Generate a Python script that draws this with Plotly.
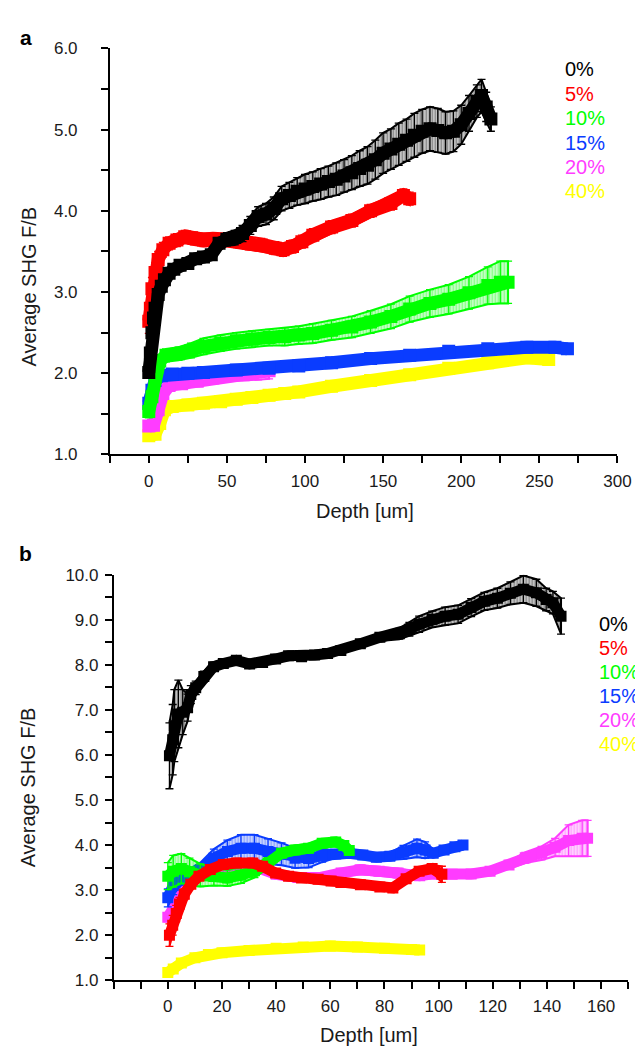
import plotly.graph_objects as go

W, H = 643, 1050

LABELS = ["0%", "5%", "10%", "15%", "20%", "40%"]
COLORS = ["#000000", "#ff0000", "#00ff00", "#0a3cff", "#ff3cff", "#ffff00"]

# ---------------- Panel a ----------------
a0_x = [0, 1, 2, 3, 4, 6, 8, 10, 13, 16, 20, 25, 30, 35, 40, 45, 50, 55, 60, 65, 70, 75, 80, 85, 90, 95,
        100, 105, 110, 115, 120, 125, 130, 135, 140, 145, 150, 155, 160, 165, 170, 175, 180, 185, 190,
        195, 200, 205, 210, 213, 216, 219]
a0_y = [2.01, 2.25, 2.5, 2.68, 2.8, 2.97, 3.07, 3.15, 3.23, 3.28, 3.33, 3.35, 3.41, 3.43, 3.46, 3.6, 3.65,
        3.67, 3.72, 3.82, 3.93, 3.96, 4.03, 4.15, 4.19, 4.24, 4.27, 4.3, 4.33, 4.36, 4.39, 4.43, 4.47, 4.52,
        4.56, 4.63, 4.71, 4.76, 4.82, 4.87, 4.93, 4.98, 5.01, 4.99, 4.96, 4.98, 5.06, 5.2, 5.35, 5.42, 5.28,
        5.13]
a0_e = [0.07, 0.07, 0.07, 0.07, 0.07, 0.07, 0.07, 0.06, 0.06, 0.06, 0.06, 0.06, 0.06, 0.06, 0.06, 0.07, 0.08,
        0.09, 0.1, 0.11, 0.12, 0.13, 0.14, 0.15, 0.16, 0.17, 0.18, 0.18, 0.19, 0.19, 0.2, 0.2, 0.21, 0.22,
        0.23, 0.24, 0.25, 0.25, 0.26, 0.26, 0.27, 0.27, 0.27, 0.27, 0.26, 0.25, 0.24, 0.22, 0.2, 0.2, 0.18,
        0.15]

a5_x = [0, 1, 2, 4, 6, 9, 13, 18, 23, 29, 35, 41, 50, 58, 64, 72, 81, 86, 92, 98, 105, 117, 130, 142, 155,
        163, 167]
a5_y = [2.64, 2.8, 3.04, 3.24, 3.4, 3.52, 3.6, 3.64, 3.68, 3.66, 3.64, 3.65, 3.64, 3.62, 3.6, 3.58, 3.54,
        3.52, 3.56, 3.62, 3.7, 3.8, 3.88, 4.0, 4.09, 4.19, 4.15]
a5_e = [0.15, 0.15, 0.14, 0.12, 0.1, 0.09, 0.08, 0.08, 0.08, 0.08, 0.08, 0.08, 0.08, 0.08, 0.08, 0.08, 0.08,
        0.08, 0.08, 0.08, 0.08, 0.08, 0.08, 0.08, 0.08, 0.08, 0.08]

a10_x = [0, 2, 4, 7, 11, 19, 27, 35, 46, 56, 66, 77, 87, 96, 105, 117, 130, 142, 155, 167, 180, 192, 205,
         217, 225, 230]
a10_y = [1.53, 1.71, 1.95, 2.15, 2.22, 2.24, 2.28, 2.33, 2.37, 2.4, 2.42, 2.44, 2.45, 2.47, 2.49, 2.53,
         2.57, 2.63, 2.7, 2.79, 2.86, 2.91, 2.99, 3.08, 3.12, 3.12]
a10_e = [0.08, 0.08, 0.08, 0.08, 0.08, 0.08, 0.09, 0.1, 0.1, 0.1, 0.1, 0.1, 0.11, 0.11, 0.12, 0.12, 0.13,
         0.14, 0.15, 0.16, 0.17, 0.18, 0.2, 0.23, 0.26, 0.26]

a15_x = [0, 2, 4, 8, 15, 25, 35, 56, 77, 96, 117, 142, 167, 192, 217, 242, 260, 268]
a15_y = [1.63, 1.79, 1.91, 1.97, 1.99, 2.0, 2.01, 2.04, 2.06, 2.09, 2.13, 2.18, 2.22, 2.27, 2.3, 2.32, 2.32,
         2.3]
a15_e = [0.1, 0.08, 0.05, 0.04, 0.03, 0.03, 0.03, 0.03, 0.03, 0.03, 0.03, 0.03, 0.03, 0.03, 0.03, 0.03,
         0.03, 0.03]

a20_x = [0, 3, 6, 9, 13, 21, 31, 41, 52, 62, 70, 77]
a20_y = [1.35, 1.36, 1.55, 1.75, 1.85, 1.87, 1.9, 1.94, 1.98, 2.0, 2.02, 2.03]
a20_e = [0.06, 0.06, 0.06, 0.06, 0.06, 0.06, 0.06, 0.07, 0.08, 0.09, 0.1, 0.1]

a40_x = [0, 4, 7, 10, 15, 25, 35, 46, 56, 66, 77, 87, 96, 117, 142, 167, 192, 217, 242, 256]
a40_y = [1.23, 1.25, 1.38, 1.55, 1.59, 1.61, 1.63, 1.65, 1.68, 1.7, 1.73, 1.75, 1.77, 1.84, 1.91, 1.98,
         2.06, 2.13, 2.19, 2.17]
a40_e = [0.04] * 20

# ---------------- Panel b ----------------
b0_x = [0.6, 1.8, 2.4, 3.9, 5.5, 7.3, 8.5, 10.3, 13.3, 16.9, 20.5, 25.3, 30.2, 35, 39.8, 44.6, 49.4, 54.2,
        59, 63.9, 71.1, 78.3, 85.5, 89.2, 92.8, 97.6, 102.4, 107.2, 112, 116.9, 121.7, 126.5, 131.3, 136.1,
        139.7, 142.2, 145.2]
b0_y = [5.98, 6.34, 6.65, 6.91, 6.95, 7.05, 7.34, 7.49, 7.74, 7.96, 8.03, 8.1, 8.02, 8.05, 8.13, 8.2, 8.18,
        8.22, 8.25, 8.32, 8.47, 8.61, 8.69, 8.79, 8.9, 9.01, 9.08, 9.12, 9.27, 9.41, 9.48, 9.59, 9.68, 9.6,
        9.45, 9.38, 9.08]
b0_e = [0.73, 0.78, 0.8, 0.75, 0.5, 0.3, 0.2, 0.15, 0.12, 0.1, 0.08, 0.06, 0.05, 0.05, 0.05, 0.05, 0.05,
        0.05, 0.05, 0.05, 0.06, 0.08, 0.12, 0.15, 0.18, 0.18, 0.2, 0.2, 0.2, 0.2, 0.22, 0.25, 0.3, 0.3,
        0.25, 0.25, 0.4]

b5_x = [0.6, 1.8, 3.1, 4.3, 6.1, 8.5, 11.5, 15.7, 20.5, 25.3, 31.4, 35, 39.8, 44.6, 49.4, 55.5, 60.3, 63.9,
        71.1, 78.3, 83.1, 88, 92.8, 97.6, 101.2]
b5_y = [2.0, 2.22, 2.48, 2.69, 2.91, 3.13, 3.31, 3.46, 3.57, 3.6, 3.6, 3.53, 3.38, 3.31, 3.27, 3.24, 3.2,
        3.17, 3.12, 3.07, 3.05, 3.25, 3.42, 3.48, 3.35]
b5_e = [0.25, 0.22, 0.18, 0.15, 0.12, 0.08, 0.05, 0.04, 0.04, 0.04, 0.04, 0.04, 0.04, 0.04, 0.04, 0.04,
        0.04, 0.04, 0.04, 0.04, 0.04, 0.05, 0.06, 0.08, 0.18]

b10_x = [0, 2, 5, 8, 12, 17, 22, 27, 32, 37, 42, 47, 52, 57, 62, 65, 67]
b10_y = [3.31, 3.42, 3.48, 3.41, 3.33, 3.3, 3.27, 3.33, 3.43, 3.6, 3.82, 3.89, 3.93, 4.04, 4.07, 3.99, 3.88]
b10_e = [0.3, 0.35, 0.33, 0.3, 0.25, 0.2, 0.18, 0.18, 0.15, 0.12, 0.1, 0.1, 0.1, 0.08, 0.08, 0.08, 0.08]

b15_x = [0, 2, 5, 8, 12, 17, 22, 27, 32, 37, 42, 47, 52, 57, 62, 67, 72, 77, 82, 87, 92, 95, 98, 102, 106,
         109]
b15_y = [2.83, 3.1, 3.26, 3.35, 3.46, 3.71, 3.86, 3.93, 3.93, 3.86, 3.8, 3.71, 3.7, 3.77, 3.8, 3.82, 3.78,
         3.73, 3.75, 3.84, 3.93, 3.89, 3.82, 3.89, 3.96, 4.0]
b15_e = [0.2, 0.2, 0.15, 0.12, 0.15, 0.2, 0.25, 0.3, 0.3, 0.28, 0.25, 0.22, 0.2, 0.15, 0.08, 0.06, 0.06,
         0.06, 0.08, 0.15, 0.2, 0.18, 0.08, 0.06, 0.06, 0.06]

b20_x = [0, 2, 5, 8, 12, 18, 25, 32, 40, 48, 56, 64, 71, 78, 85, 93, 98, 105, 112, 119, 126, 132, 138, 143,
         148, 153, 155]
b20_y = [2.4, 2.62, 2.88, 3.15, 3.4, 3.5, 3.55, 3.52, 3.35, 3.28, 3.28, 3.38, 3.45, 3.42, 3.38, 3.32, 3.36,
         3.35, 3.36, 3.42, 3.56, 3.72, 3.82, 3.95, 4.1, 4.15, 4.15]
b20_e = [0.1, 0.1, 0.1, 0.1, 0.12, 0.12, 0.1, 0.08, 0.06, 0.06, 0.06, 0.08, 0.1, 0.1, 0.1, 0.08, 0.06,
         0.05, 0.05, 0.06, 0.08, 0.12, 0.15, 0.2, 0.35, 0.4, 0.4]

b40_x = [0, 2, 5, 10, 15, 20, 30, 40, 50, 60, 70, 80, 90, 93]
b40_y = [1.17, 1.25, 1.38, 1.5, 1.57, 1.61, 1.66, 1.71, 1.74, 1.76, 1.74, 1.71, 1.68, 1.67]
b40_e = [0.02] * 14

panel_a = [(a0_x, a0_y, a0_e), (a5_x, a5_y, a5_e), (a10_x, a10_y, a10_e),
           (a15_x, a15_y, a15_e), (a20_x, a20_y, a20_e), (a40_x, a40_y, a40_e)]
panel_b = [(b0_x, b0_y, b0_e), (b5_x, b5_y, b5_e), (b10_x, b10_y, b10_e),
           (b15_x, b15_y, b15_e), (b20_x, b20_y, b20_e), (b40_x, b40_y, b40_e)]

FONT = "Liberation Sans, Arial, Helvetica, sans-serif"
fig = go.Figure()


def add_series(x, y, e, color, xa, ya, msize):
    up = [v + d for v, d in zip(y, e)]
    lo = [v - d for v, d in zip(y, e)]
    fig.add_trace(go.Scatter(
        x=list(x) + list(x)[::-1], y=up + lo[::-1], xaxis=xa, yaxis=ya,
        mode="lines", fill="toself", fillcolor="rgba(0,0,0,0)",
        fillpattern=dict(shape="|", fgcolor=color, size=3, solidity=0.65, fillmode="overlay"),
        line=dict(color=color, width=2), hoverinfo="skip", showlegend=False))
    fig.add_trace(go.Scatter(
        x=x, y=y, xaxis=xa, yaxis=ya, mode="lines+markers",
        line=dict(color=color, width=msize),
        marker=dict(symbol="square", size=msize, color=color),
        error_y=dict(type="data", array=e, color=color, thickness=1.3, width=4),
        showlegend=False))


# draw in reverse order so black is on top
for i in reversed(range(6)):
    x, y, e = panel_a[i]
    add_series(x, y, e, COLORS[i], "x", "y", 13)
for i in reversed(range(6)):
    x, y, e = panel_b[i]
    add_series(x, y, e, COLORS[i], "x2", "y2", 11)


def px_x(p):
    return p / W


def px_y(p):
    return 1 - p / H


axis_common = dict(showline=True, linecolor="black", linewidth=1.5, ticks="outside", ticklen=7,
                   tickwidth=1.5, tickcolor="black", showgrid=False, zeroline=False,
                   tickfont=dict(family=FONT, size=17, color="#1a1a1a"))

fig.update_layout(
    width=W, height=H, margin=dict(l=0, r=0, t=0, b=0),
    paper_bgcolor="white", plot_bgcolor="white", showlegend=False,
    xaxis=dict(domain=[px_x(104), px_x(623)], range=[-25, 300], anchor="y",
               tickmode="array", tickvals=[0, 50, 100, 150, 200, 250, 300],
               minor=dict(dtick=25, tick0=0, ticks="outside", ticklen=7, tickwidth=1.5, tickcolor="black"),
               ticklabelstandoff=3, **axis_common),
    yaxis=dict(domain=[px_y(445.5), px_y(32)], range=[1, 6], anchor="x", dtick=1, tickformat=".1f",
               minor=dict(dtick=0.5, tick0=0, ticks="outside", ticklen=7, tickwidth=1.5, tickcolor="black"),
               ticklabelstandoff=20, **axis_common),
    xaxis2=dict(domain=[px_x(108), px_x(634)], range=[-20, 170], anchor="y2",
                tickmode="array", tickvals=[0, 20, 40, 60, 80, 100, 120, 140, 160],
                minor=dict(dtick=10, tick0=0, ticks="outside", ticklen=7, tickwidth=1.5, tickcolor="black"),
                ticklabelstandoff=3, **axis_common),
    yaxis2=dict(domain=[px_y(981), px_y(568)], range=[1, 10], anchor="x2", dtick=1, tickformat=".1f",
                minor=dict(dtick=0.5, tick0=0, ticks="outside", ticklen=7, tickwidth=1.5, tickcolor="black"),
                ticklabelstandoff=3, **axis_common),
)

ann = []
# panel letters
ann.append(dict(text="<b>a</b>", x=px_x(18), y=px_y(21), xref="paper", yref="paper", showarrow=False,
                font=dict(family=FONT, size=21, color="black"), xanchor="center", yanchor="middle"))
ann.append(dict(text="<b>b</b>", x=px_x(18), y=px_y(546), xref="paper", yref="paper", showarrow=False,
                font=dict(family=FONT, size=21, color="black"), xanchor="center", yanchor="middle"))
# axis titles
for (cx, cy) in [(21, 275), (20, 785)]:
    ann.append(dict(text="Average SHG F/B", x=px_x(cx), y=px_y(cy), xref="paper", yref="paper",
                    showarrow=False, textangle=-90, font=dict(family=FONT, size=20, color="#1a1a1a"),
                    xanchor="center", yanchor="middle"))
for (cx, cy) in [(365, 503), (369, 1037)]:
    ann.append(dict(text="Depth [um]", x=px_x(cx), y=px_y(cy), xref="paper", yref="paper",
                    showarrow=False, font=dict(family=FONT, size=20, color="#1a1a1a"),
                    xanchor="center", yanchor="middle"))
# legend labels
for left, tops in [(567, [53, 78, 103, 128, 153, 177]), (602, [618, 642.5, 667, 691.5, 716, 740.5])]:
    for lab, col, cy in zip(LABELS, COLORS, tops):
        ann.append(dict(text=lab, x=px_x(left), y=px_y(cy), xref="paper", yref="paper", showarrow=False,
                        font=dict(family=FONT, size=20, color=col), xanchor="left", yanchor="middle"))
fig.update_layout(annotations=ann)

fig.write_html("out.html")
